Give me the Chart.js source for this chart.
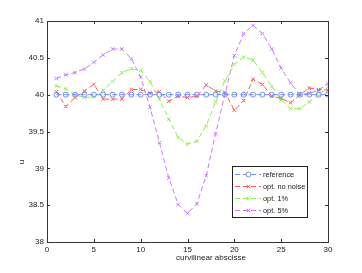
<!DOCTYPE html>
<html>
<head>
<meta charset="utf-8">
<script src="https://cdn.jsdelivr.net/npm/chart.js@4/dist/chart.umd.min.js"></script>
<style>
  html, body { margin: 0; padding: 0; background: #fff; }
  #wrap { width: 362px; height: 273px; position: relative; }
</style>
</head>
<body>
<div id="wrap"><canvas id="chart" width="362" height="273"></canvas></div>
<script>
// ---- data ----
const abscissa = [1, 2, 3, 4, 5, 6, 7, 8, 9, 10, 11, 12, 13, 14, 15,
  16, 17, 18, 19, 20, 21, 22, 23, 24, 25, 26, 27, 28, 29, 30];

const reference = [40, 40, 40, 40, 40, 40, 40, 40, 40, 40, 40, 40, 40, 40, 40,
  40, 40, 40, 40, 40, 40, 40, 40, 40, 40, 40, 40, 40, 40, 40];

const optNoNoise = [40.04, 39.84, 39.96, 40.05, 40.14, 39.94, 39.94, 39.94, 40.07, 40.07,
  40.02, 40.04, 39.91, 39.98, 39.96, 39.98, 40.13, 40.05, 40.03, 39.79,
  39.92, 40.21, 40.14, 39.98, 39.95, 39.89, 40.0, 40.09, 40.07, 40.06];

const opt1 = [40.12, 40.08, 40.0, 39.96, 39.97, 40.06, 40.18, 40.30, 40.35, 40.33,
  40.18, 39.94, 39.67, 39.42, 39.33, 39.37, 39.58, 39.90, 40.19, 40.41,
  40.51, 40.47, 40.30, 40.11, 39.93, 39.81, 39.81, 39.90, 40.0, 40.10];

const opt5 = [40.22, 40.27, 40.30, 40.35, 40.44, 40.54, 40.62, 40.62, 40.49, 40.24,
  39.83, 39.35, 38.87, 38.51, 38.39, 38.52, 38.90, 39.47, 40.01, 40.53,
  40.83, 40.94, 40.83, 40.62, 40.36, 40.16, 40.0, 40.02, 40.06, 40.15];

const seriesNames = ["reference", "opt. no noise", "opt. 1%", "opt. 5%"];
const xTicks = [0, 5, 10, 15, 20, 25, 30];
const yTicks = [38, 38.5, 39, 39.5, 40, 40.5, 41];

const FONT = "Liberation Sans, Arial, Helvetica, sans-serif";
const AREA = { left: 47, top: 21, right: 328, bottom: 242 };
const TEXT = "#222";

function pts(ys) {
  return ys.map((y, i) => ({ x: abscissa[i], y }));
}

function series(label, ys, color, style) {
  return {
    label,
    data: pts(ys),
    borderColor: color,
    backgroundColor: color,
    borderWidth: 1,
    borderDash: [5, 3],
    pointStyle: style,
    pointRadius: 2.5,
    pointBorderWidth: 1,
    pointBackgroundColor: "rgba(0,0,0,0)",
    pointBorderColor: color,
    tension: 0,
  };
}

const datasets = [
  series(seriesNames[0], reference, "#6f8cff", "circle"),
  series(seriesNames[1], optNoNoise, "#ff5a5a", "crossRot"),
  series(seriesNames[2], opt1, "#8ef04a", "crossRot"),
  series(seriesNames[3], opt5, "#cc77ff", "crossRot"),
];

/* box, inner ticks, axis labels and the legend, MATLAB style */
const matlabFrame = {
  id: "matlabFrame",
  afterDraw(chart) {
    const { ctx, chartArea: a } = chart;
    const xs = chart.scales.x;
    const ys = chart.scales.y;
    ctx.save();
    ctx.strokeStyle = "#333";
    ctx.lineWidth = 1;
    ctx.strokeRect(Math.round(a.left) + 0.5, Math.round(a.top) + 0.5,
      Math.round(a.right - a.left), Math.round(a.bottom - a.top));

    ctx.beginPath();
    xTicks.forEach((v) => {
      const px = Math.round(xs.getPixelForValue(v)) + 0.5;
      ctx.moveTo(px, a.bottom); ctx.lineTo(px, a.bottom - 3);
      ctx.moveTo(px, a.top); ctx.lineTo(px, a.top + 3);
    });
    yTicks.forEach((v) => {
      const py = Math.round(ys.getPixelForValue(v)) + 0.5;
      ctx.moveTo(a.left, py); ctx.lineTo(a.left + 3, py);
      ctx.moveTo(a.right, py); ctx.lineTo(a.right - 3, py);
    });
    ctx.stroke();

    // axis labels (MATLAB put them off-centre here)
    ctx.fillStyle = TEXT;
    ctx.font = "8px " + FONT;
    ctx.textAlign = "center";
    ctx.textBaseline = "middle";
    ctx.fillText("curvilinear abscisse", 211, 258);
    ctx.translate(22, 162);
    ctx.rotate(-Math.PI / 2);
    ctx.fillText("u", 0, 0);
    ctx.restore();

    // legend
    ctx.save();
    const box = { x: 232, y: 166, w: 75, h: 51 };
    ctx.fillStyle = "#fff";
    ctx.fillRect(box.x, box.y, box.w, box.h);
    ctx.strokeStyle = "#222";
    ctx.strokeRect(box.x + 0.5, box.y + 0.5, box.w, box.h);
    ctx.font = "7.4px " + FONT;
    ctx.textBaseline = "middle";
    ctx.textAlign = "left";
    chart.data.datasets.forEach((ds, i) => {
      const y = box.y + 8.5 + i * 12;
      ctx.strokeStyle = ds.borderColor;
      ctx.lineWidth = 1;
      ctx.setLineDash([5, 3]);
      ctx.beginPath();
      ctx.moveTo(box.x + 3, y);
      ctx.lineTo(box.x + 29, y);
      ctx.stroke();
      ctx.setLineDash([]);
      Chart.helpers.drawPoint(ctx, {
        pointStyle: ds.pointStyle, radius: 2.5, borderWidth: 1,
      }, box.x + 16.5, y);
      ctx.fillStyle = TEXT;
      ctx.fillText(ds.label, box.x + 31, y + 0.5);
    });
    ctx.restore();
  },
};

new Chart(document.getElementById("chart"), {
  type: "line",
  data: { datasets },
  options: {
    responsive: false,
    animation: false,
    layout: { padding: { left: 0, right: 362 - AREA.right, top: AREA.top, bottom: 0 } },
    plugins: { legend: { display: false }, tooltip: { enabled: false } },
    scales: {
      x: {
        type: "linear",
        min: 0,
        max: 30,
        afterBuildTicks: (s) => { s.ticks = xTicks.map((v) => ({ value: v })); },
        afterFit: (s) => { s.height = 273 - AREA.bottom; },
        grid: { display: false, drawTicks: false },
        border: { display: false },
        ticks: { color: TEXT, font: { family: FONT, size: 8 }, padding: 3, maxRotation: 0 },
      },
      y: {
        type: "linear",
        min: 38,
        max: 41,
        afterBuildTicks: (s) => { s.ticks = yTicks.map((v) => ({ value: v })); },
        afterFit: (s) => { s.width = AREA.left; },
        grid: { display: false, drawTicks: false },
        border: { display: false },
        ticks: {
          color: TEXT,
          font: { family: FONT, size: 8 },
          padding: 3,
          callback: (v) => String(v),
        },
      },
    },
  },
  plugins: [matlabFrame],
});
</script>
</body>
</html>
